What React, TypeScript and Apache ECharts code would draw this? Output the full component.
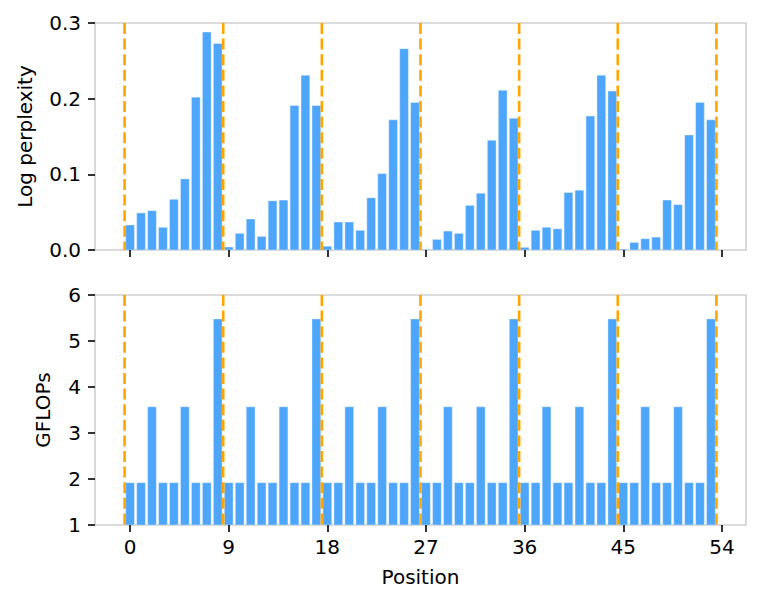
import React, { useEffect, useRef } from "react";
import * as echarts from "echarts";

const positions: number[] = Array.from({ length: 54 }, (_, i) => i);

const logPerplexity: number[] = [
  0.033, 0.049, 0.052, 0.030, 0.067, 0.094, 0.202, 0.288, 0.273,
  0.004, 0.022, 0.041, 0.018, 0.065, 0.066, 0.191, 0.231, 0.191,
  0.005, 0.037, 0.037, 0.026, 0.069, 0.101, 0.172, 0.266, 0.195,
  0.001, 0.014, 0.025, 0.022, 0.059, 0.075, 0.145, 0.211, 0.174,
  0.0035, 0.026, 0.030, 0.028, 0.076, 0.079, 0.177, 0.231, 0.210,
  0.0013, 0.010, 0.015, 0.017, 0.066, 0.060, 0.152, 0.195, 0.172,
];

const gflops: number[] = [
  1.92, 1.92, 3.57, 1.92, 1.92, 3.57, 1.92, 1.92, 5.48,
  1.92, 1.92, 3.57, 1.92, 1.92, 3.57, 1.92, 1.92, 5.48,
  1.92, 1.92, 3.57, 1.92, 1.92, 3.57, 1.92, 1.92, 5.48,
  1.92, 1.92, 3.57, 1.92, 1.92, 3.57, 1.92, 1.92, 5.48,
  1.92, 1.92, 3.57, 1.92, 1.92, 3.57, 1.92, 1.92, 5.48,
  1.92, 1.92, 3.57, 1.92, 1.92, 3.57, 1.92, 1.92, 5.48,
];

const boundaries: number[] = [-0.5, 8.5, 17.5, 26.5, 35.5, 44.5, 53.5];
const xTicks: number[] = [0, 9, 18, 27, 36, 45, 54];

const BAR_COLOR = "#4ea6fc";
const LINE_COLOR = "#ffa500";
const FONT = "DejaVu Sans";

export default function App() {
  const ref = useRef<HTMLDivElement>(null);

  useEffect(() => {
    if (!ref.current) return;
    const chart = echarts.init(ref.current, undefined, { renderer: "svg" });

    const barRender = (params: any, api: any) => {
      const x = api.value(0);
      const v = api.value(1);
      const p0 = api.coord([x - 0.4, 0]);
      const p1 = api.coord([x + 0.4, v]);
      const cs = params.coordSys;
      const rect = echarts.graphic.clipRectByRect(
        { x: p0[0], y: p1[1], width: p1[0] - p0[0], height: p0[1] - p1[1] },
        { x: cs.x, y: cs.y, width: cs.width, height: cs.height }
      );
      if (!rect) return null;
      return {
        type: "rect",
        shape: rect,
        style: { fill: BAR_COLOR, stroke: "rgba(255,255,255,0.45)", lineWidth: 0.8 },
      };
    };

    const lineRender = (params: any, api: any) => {
      const x = api.coord([api.value(0), 0])[0];
      const cs = params.coordSys;
      return {
        type: "line",
        shape: { x1: x, y1: cs.y, x2: x, y2: cs.y + cs.height },
        style: { stroke: LINE_COLOR, lineWidth: 2.6, lineDash: [11, 4.6] },
      };
    };

    const xAxisBase = (gridIndex: number, showLabels: boolean, name: string) => ({
      type: "value",
      gridIndex,
      position: "bottom",
      min: -3.2,
      max: 56.2,
      name,
      nameLocation: "middle",
      nameGap: 42,
      nameTextStyle: { fontFamily: FONT, fontSize: 20, color: "#000" },
      axisLine: { show: false, onZero: false },
      splitLine: { show: false },
      axisTick: {
        show: true,
        customValues: xTicks,
        length: 7,
        lineStyle: { color: "#000", width: 1.6 },
      },
      axisLabel: {
        show: showLabels,
        customValues: xTicks,
        margin: 12,
        fontFamily: FONT,
        fontSize: 20,
        color: "#000",
      },
    });

    const yAxisBase = (
      gridIndex: number,
      min: number,
      max: number,
      interval: number,
      name: string,
      nameGap: number,
      fmt: (v: number) => string
    ) => ({
      type: "value",
      gridIndex,
      position: "left",
      min,
      max,
      interval,
      name,
      nameLocation: "middle",
      nameGap,
      nameTextStyle: { fontFamily: FONT, fontSize: 20, color: "#000" },
      axisLine: { show: false, onZero: false },
      splitLine: { show: false },
      axisTick: {
        show: true,
        length: 7,
        lineStyle: { color: "#000", width: 1.6 },
      },
      axisLabel: {
        margin: 14,
        fontFamily: FONT,
        fontSize: 20,
        color: "#000",
        formatter: (v: number) => fmt(v),
      },
    });

    const topBars = positions.map((p, i) => [p, logPerplexity[i]]);
    const bottomBars = positions.map((p, i) => [p, gflops[i]]);
    const lineData = boundaries.map((b) => [b]);

    chart.setOption({
      animation: false,
      backgroundColor: "#fff",
      grid: [
        {
          left: 95,
          top: 23,
          width: 651,
          height: 227,
          show: true,
          borderColor: "#d0d0d0",
          borderWidth: 1.6,
          backgroundColor: "transparent",
        },
        {
          left: 95,
          top: 295,
          width: 651,
          height: 230,
          show: true,
          borderColor: "#d0d0d0",
          borderWidth: 1.6,
          backgroundColor: "transparent",
        },
      ],
      xAxis: [xAxisBase(0, false, ""), xAxisBase(1, true, "Position")],
      yAxis: [
        yAxisBase(0, 0, 0.3, 0.1, "Log perplexity", 60, (v) => v.toFixed(1)),
        yAxisBase(1, 1, 6, 1, "GFLOPs", 42, (v) => String(Math.round(v))),
      ],
      series: [
        {
          type: "custom",
          xAxisIndex: 0,
          yAxisIndex: 0,
          data: topBars,
          renderItem: barRender,
          clip: true,
          silent: true,
        },
        {
          type: "custom",
          xAxisIndex: 1,
          yAxisIndex: 1,
          data: bottomBars,
          renderItem: barRender,
          clip: true,
          silent: true,
        },
        {
          type: "custom",
          xAxisIndex: 0,
          yAxisIndex: 0,
          data: lineData,
          encode: { x: 0 },
          renderItem: lineRender,
          silent: true,
        },
        {
          type: "custom",
          xAxisIndex: 1,
          yAxisIndex: 1,
          data: lineData,
          encode: { x: 0 },
          renderItem: lineRender,
          silent: true,
        },
      ],
    });

    return () => chart.dispose();
  }, []);

  return (
    <div
      ref={ref}
      style={{ position: "fixed", left: 0, top: 0, width: 762, height: 606 }}
    />
  );
}
